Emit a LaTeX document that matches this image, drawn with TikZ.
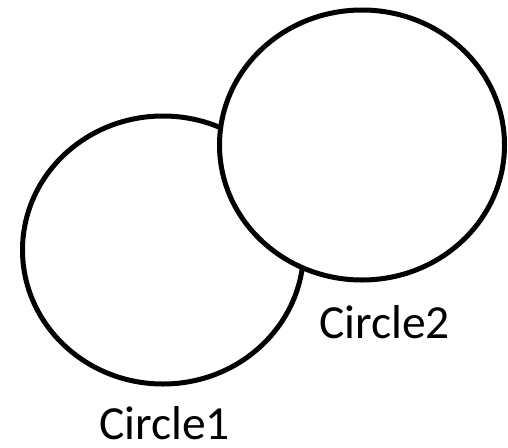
\documentclass[tikz,border=0pt]{standalone}
\usepackage{fontspec}
\setmainfont{Carlito}
\usetikzlibrary{shapes.geometric}

\begin{document}
\begin{tikzpicture}[
    x=1pt, y=-1pt,
    disc/.style={ellipse, draw=black, fill=white, line width=5pt,
      inner sep=0pt},
    caption/.style={anchor=base west, inner sep=0pt,
      font=\fontsize{47.5}{52}\selectfont}
  ]
    \useasboundingbox (0,0) rectangle (508,447);
    \node[disc, minimum width=281pt, minimum height=268pt] (circle1) at (163,250) {};
    \node[disc, minimum width=285pt, minimum height=270pt] (circle2) at (362,145) {};
    \node[caption] (label1) at (99,439) {Circle1};
    \node[caption] (label2) at (319,338) {Circle2};
\end{tikzpicture}
\end{document}
